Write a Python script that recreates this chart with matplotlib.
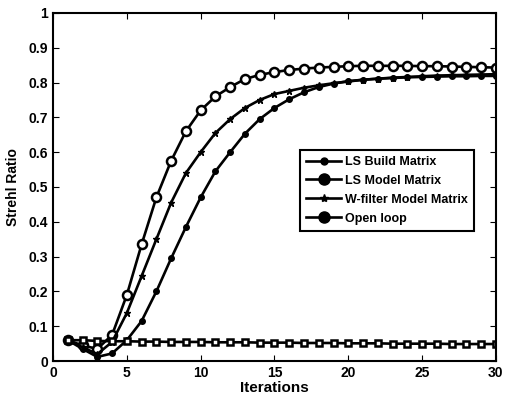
import numpy as np
import matplotlib.pyplot as plt
from matplotlib.lines import Line2D

plt.rcParams['font.family'] = ['Liberation Sans', 'DejaVu Sans']

iters = np.arange(1, 31)
ls_build = [0.06, 0.035, 0.012, 0.022, 0.06, 0.115, 0.20, 0.295, 0.385, 0.47,
            0.545, 0.60, 0.653, 0.695, 0.727, 0.752, 0.772, 0.787, 0.797, 0.804,
            0.808, 0.811, 0.813, 0.815, 0.816, 0.817, 0.818, 0.818, 0.819, 0.819]
ls_model = [0.06, 0.045, 0.035, 0.075, 0.19, 0.335, 0.47, 0.575, 0.66, 0.72,
            0.76, 0.787, 0.81, 0.822, 0.83, 0.836, 0.84, 0.843, 0.845, 0.847,
            0.848, 0.848, 0.848, 0.848, 0.847, 0.847, 0.846, 0.845, 0.844, 0.843]
w_filter = [0.06, 0.04, 0.02, 0.055, 0.138, 0.244, 0.35, 0.455, 0.54, 0.60,
            0.655, 0.695, 0.727, 0.75, 0.767, 0.776, 0.785, 0.792, 0.798, 0.803,
            0.808, 0.811, 0.814, 0.816, 0.818, 0.82, 0.821, 0.822, 0.823, 0.824]
open_loop = [0.06, 0.06, 0.058, 0.057, 0.057, 0.056, 0.056, 0.055, 0.055, 0.055,
             0.054, 0.054, 0.054, 0.053, 0.053, 0.053, 0.052, 0.052, 0.052, 0.051,
             0.051, 0.051, 0.05, 0.05, 0.05, 0.05, 0.049, 0.049, 0.049, 0.049]
labels = ['LS Build Matrix', 'LS Model Matrix', 'W-filter Model Matrix', 'Open loop']

fig = plt.figure(figsize=(5.05, 4.03), dpi=100)
ax = fig.add_axes([0.105, 0.104, 0.877, 0.864])

lw = 1.9
ax.plot(iters, ls_build, '-o', color='k', lw=lw, ms=4)
ax.plot(iters, ls_model, '-o', color='k', lw=lw, ms=6.5, mfc='white', mew=1.8)
ax.plot(iters, w_filter, '-*', color='k', lw=lw, ms=5)
ax.plot(iters, open_loop, '-s', color='k', lw=lw, ms=5, mfc='white', mew=1.8)

ax.set_xlim(0, 30)
ax.set_ylim(0, 1)
ax.set_xticks(np.arange(0, 31, 5))
ax.set_yticks(np.arange(0, 1.01, 0.1))
ax.set_yticklabels(['0'] + ['%.1f' % v for v in np.arange(0.1, 0.95, 0.1)] + ['1'])
ax.tick_params(direction='in', top=True, right=True, length=4, labelsize=10)
for lab in ax.get_xticklabels() + ax.get_yticklabels():
    lab.set_fontweight('bold')
for s in ax.spines.values():
    s.set_linewidth(1.5)

ax.set_xlabel('Iterations', fontsize=11, fontweight='bold', labelpad=1)
ax.set_ylabel('Strehl Ratio', fontsize=10, fontweight='bold', labelpad=6)

handles = [Line2D([], [], color='k', lw=lw, marker='o', ms=5),
           Line2D([], [], color='k', lw=lw, marker='o', ms=8),
           Line2D([], [], color='k', lw=lw, marker='*', ms=6),
           Line2D([], [], color='k', lw=lw, marker='o', ms=8)]
leg = ax.legend(handles, labels, loc='upper left', bbox_to_anchor=(0.544, 0.625),
                fancybox=False, edgecolor='k', framealpha=1,
                prop={'size': 9, 'weight': 'bold'}, handlelength=2.8,
                borderpad=0.5, labelspacing=0.55, handletextpad=0.3)
leg.get_frame().set_linewidth(1.5)

fig.savefig('out.png')
